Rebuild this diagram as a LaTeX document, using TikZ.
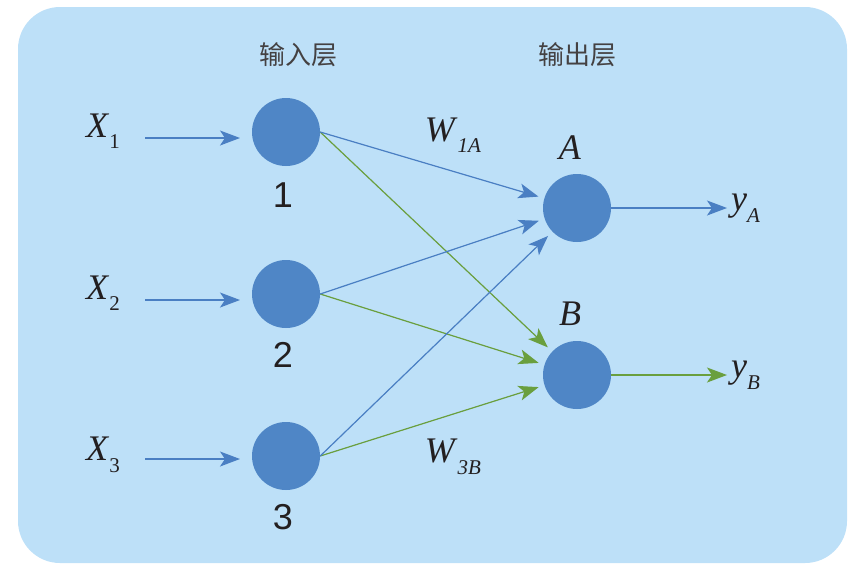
\documentclass[tikz,border=0pt]{standalone}
\usepackage{fontspec}
\setmainfont{Liberation Serif}
\newfontfamily\arialf{Liberation Sans}
\newfontfamily\cjk{Noto Sans CJK SC}
\usetikzlibrary{arrows.meta}
\definecolor{bgblue}{HTML}{BDE0F8}
\definecolor{nodeblue}{HTML}{4F86C6}
\definecolor{lineblue}{HTML}{4A7FC3}
\definecolor{linegreen}{HTML}{6A9F3E}
\definecolor{txt}{HTML}{231F20}
\newcommand\mylab[2]{\fontsize{36}{40}\selectfont\textit{#1}\raisebox{-0.32em}{\fontsize{21}{24}\selectfont #2}}
\begin{document}
\begin{tikzpicture}[x=1pt,y=-1pt,
  neuron/.style={circle,fill=nodeblue,minimum size=68pt,inner sep=0pt},
  arr/.style={-{Stealth[length=20pt,width=15pt,inset=5pt]},line width=1.2pt},
  bl/.style={arr,draw=lineblue,fill=lineblue},
  gr/.style={arr,draw=linegreen,fill=linegreen},
  lab/.style={text=txt,inner sep=0pt},
  cjklab/.style={text=txt!85,inner sep=0pt,font=\cjk\fontsize{26}{28}\selectfont},
  num/.style={text=txt,inner sep=0pt,font=\arialf\fontsize{36}{40}\selectfont}]
\useasboundingbox (0,0) rectangle (866,579);
\fill[bgblue,rounded corners=42pt] (18,7) rectangle (847,563);
% nodes
\node[neuron] (i1) at (286,132) {};
\node[neuron] (i2) at (286,294) {};
\node[neuron] (i3) at (286,456) {};
\node[neuron] (oA) at (577,208) {};
\node[neuron] (oB) at (577,375) {};
% labels
\node[cjklab] (h1) at (298,55) {输入层};
\node[cjklab] (h2) at (577,55) {输出层};
\node[num] (n1) at (283,195) {1};
\node[num] (n2) at (283,355) {2};
\node[num] (n3) at (283,517) {3};
\node[lab] (la) at (570,148) {\fontsize{36}{40}\selectfont\textit{A}};
\node[lab] (lb) at (570,314) {\fontsize{36}{40}\selectfont\textit{B}};
\node[lab] (x1) at (103,131) {\mylab{X}{1}};
\node[lab] (x2) at (103,293) {\mylab{X}{2}};
\node[lab] (x3) at (103,455) {\mylab{X}{3}};
\node[lab] (w1) at (453,135) {\mylab{W}{\textit{1A}}};
\node[lab] (w3) at (453,457) {\mylab{W}{\textit{3B}}};
\node[lab,anchor=west] (ya) at (731,208) {\mylab{y}{\textit{A}}};
\node[lab,anchor=west] (yb) at (731,375) {\mylab{y}{\textit{B}}};
% input arrow coordinates
\coordinate (s1) at (145,138);
\coordinate (e1) at (240,138);
\coordinate (s2) at (145,300);
\coordinate (e2) at (240,300);
\coordinate (s3) at (145,459);
\coordinate (e3) at (240,459);
\coordinate (ta) at (727,208);
\coordinate (tb) at (727,375);
\draw[bl] (s1) -- (e1);
\draw[bl] (s2) -- (e2);
\draw[bl] (s3) -- (e3);
% connections
\draw[gr,shorten >=6pt] (i1.east) -- (oB);
\draw[gr,shorten >=6pt] (i2.east) -- (oB);
\draw[gr,shorten >=6pt] (i3.east) -- (oB);
\draw[bl,shorten >=6pt] (i1.east) -- (oA);
\draw[bl,shorten >=6pt] (i2.east) -- (oA);
\draw[bl,shorten >=6pt] (i3.east) -- (oA);
% outputs
\draw[bl] (oA.east) -- (ta);
\draw[gr] (oB.east) -- (tb);
\end{tikzpicture}
\end{document}
